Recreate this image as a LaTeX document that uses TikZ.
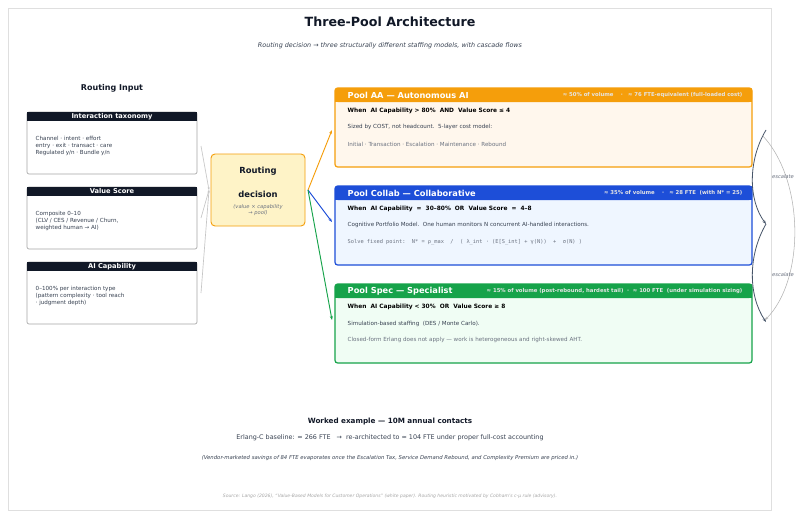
\documentclass[tikz,border=0pt]{standalone}
\usepackage{fontspec}
\setmainfont{DejaVu Sans}
\setmonofont{DejaVu Sans Mono}
\usetikzlibrary{arrows.meta}
\definecolor{navy}{HTML}{111827}
\definecolor{txt}{HTML}{374151}
\definecolor{gr}{HTML}{6B7280}
\definecolor{orA}{HTML}{F59E0B}
\definecolor{orF}{HTML}{FFF7ED}
\definecolor{blA}{HTML}{1D4ED8}
\definecolor{blF}{HTML}{EFF6FF}
\definecolor{gnA}{HTML}{16A34A}
\definecolor{gnF}{HTML}{F0FDF4}
\definecolor{yel}{HTML}{FEF3C7}
\definecolor{cas}{HTML}{475569}
\tikzset{
 inbox/.style={draw=gray!70,rounded corners=1.5pt,line width=0.5pt,fill=white},
 inhead/.style={inner sep=0pt,text=white,font=\fontsize{5}{5}\selectfont\bfseries},
 intext/.style={anchor=north west,align=left,text=txt,font=\fontsize{4.2}{5}\selectfont},
 pool/.style={rounded corners=2pt,line width=0.9pt},
 phead/.style={anchor=west,text=white,font=\fontsize{6.2}{6.2}\selectfont\bfseries},
 pright/.style={anchor=east,text=white!90!black,font=\fontsize{4}{4}\selectfont\bfseries},
 pwhen/.style={anchor=west,text=black,font=\fontsize{4.4}{4.4}\selectfont\bfseries},
 pbody/.style={anchor=west,text=txt,font=\fontsize{4.2}{4.2}\selectfont},
 inarr/.style={draw=gray!45,line width=0.5pt,-{Stealth[length=2pt]}},
}
\begin{document}
\begin{tikzpicture}[x=0.75pt,y=-0.75pt]
\useasboundingbox (0,0) rectangle (800,518);
\fill[white] (0,0) rectangle (800,518);
\draw[gray!25,line width=0.5pt] (8,8) rectangle (771,510);
\node[text=navy,font=\fontsize{9.5}{9.5}\selectfont\bfseries] (title) at (390,22) {Three-Pool Architecture};
\node[text=txt,font=\fontsize{4.8}{4.8}\selectfont\itshape] (sub) at (390,46) {Routing decision → three structurally different staffing models, with cascade flows};
\node[text=navy,font=\fontsize{6}{6}\selectfont\bfseries] (ri) at (112,88) {Routing Input};
% input boxes
\foreach \n/\y/\h/\t in {tax/112/Interaction taxonomy/{Channel · intent · effort\\entry · exit · transact · care\\Regulated y/n · Bundle y/n},
  val/187/Value Score/{Composite 0–10\\(CLV / CES / Revenue / Churn,\\weighted human → AI)},
  cap/262/AI Capability/{0–100\% per interaction type\\(pattern complexity · tool reach\\ · judgment depth)}}{
  \draw[inbox] (27,\y) rectangle (197,\y+62);
  \fill[navy] (27,\y) rectangle (197,\y+9);
  \node[inhead] (\n h) at (112,\y+4.5) {\h};
  \node[intext] (\n) at (31,\y+20) {\t};
}
\coordinate (tx) at (201,146); \coordinate (vx) at (201,218); \coordinate (cx) at (201,293);
% routing
\draw[orA,fill=yel,rounded corners=3pt,line width=0.7pt] (211,154) rectangle (305,226);
\node[text=navy,align=center,font=\fontsize{6.3}{18}\selectfont\bfseries] (rd) at (258,182) {Routing\\decision};
\node[text=gr,align=center,font=\fontsize{3.9}{4.8}\selectfont\itshape] (rds) at (258,210) {(value × capability\\→ pool)};
\coordinate (rin) at (209,190); \coordinate (rout) at (308,190);
\draw[inarr] (tx) -- (rin); \draw[inarr] (vx) -- (rin); \draw[inarr] (cx) -- (rin);
% pools
\foreach \y/\a/\f/\n in {88/orA/orF/aa,186/blA/blF/co,284/gnA/gnF/sp}{
  \draw[pool,draw=\a,fill=\f] (335,\y) rectangle (752,\y+79);
  \fill[\a,rounded corners=2pt] (335,\y) rectangle (752,\y+14);
  \fill[\a] (335,\y+8) rectangle (752,\y+14);
}
\node[phead] (aah) at (343,95) {Pool AA — Autonomous AI};
\node[pright] (aar) at (747,95) {≈ 50\% of volume \quad·\quad ≈ 76 FTE-equivalent (full-loaded cost)};
\node[pwhen] (aaw) at (343,111) {When\ \ AI Capability > 80\%\ \ AND\ \ Value Score ≤ 4};
\node[pbody] (aab) at (343,127) {Sized by COST, not headcount.\ \ 5-layer cost model:};
\node[pbody,text=gr] (aac) at (343,144) {Initial · Transaction · Escalation · Maintenance · Rebound};
\node[phead] (coh) at (343,193) {Pool Collab — Collaborative};
\node[pright] (cor) at (747,193) {≈ 35\% of volume \quad·\quad ≈ 28 FTE\ \ (with N* = 25)};
\node[pwhen] (cow) at (343,209) {When\ \ AI Capability\ \ =\ \ 30–80\%\ \ OR\ \ Value Score\ \ =\ \ 4–8};
\node[pbody] (cob) at (343,225) {Cognitive Portfolio Model.\ \ One human monitors N concurrent AI-handled interactions.};
\node[anchor=west,text=gr,font=\fontsize{4}{4}\selectfont\ttfamily] (coc) at (343,242) {Solve fixed point:\ \ N* = ρ\_max\ \ /\ \ ( λ\_int · (E[S\_int] + γ(N))\ \ +\ \ σ(N) )};
\node[phead] (sph) at (343,291) {Pool Spec — Specialist};
\node[pright] (spr) at (747,291) {≈ 15\% of volume (post-rebound, hardest tail) \ ·\ \ ≈ 100 FTE\ \ (under simulation sizing)};
\node[pwhen] (spw) at (343,307) {When\ \ AI Capability < 30\%\ \ OR\ \ Value Score ≥ 8};
\node[pbody] (spb) at (343,324) {Simulation-based staffing\ \ (DES / Monte Carlo).};
\node[pbody,text=gr] (spc) at (343,340) {Closed-form Erlang does not apply — work is heterogeneous and right-skewed AHT.};
% outputs
\coordinate (oa) at (332,130); \coordinate (ob) at (332,222); \coordinate (oc) at (332,320);
\draw[orA,line width=0.7pt,-{Stealth[length=3pt]}] (rout) -- (oa);
\draw[blA,line width=0.7pt,-{Stealth[length=3pt]}] (rout) -- (ob);
\draw[gnA,line width=0.7pt,-{Stealth[length=3pt]}] (rout) -- (oc);
% cascades
\coordinate (c1) at (766,130); \coordinate (c2) at (766,224); \coordinate (c3) at (766,322);
\draw[cas,line width=0.6pt,-{Stealth[length=3pt]}] (c1) .. controls (748,160) and (748,200) .. (c2);
\draw[cas,line width=0.6pt,-{Stealth[length=3pt]}] (c2) .. controls (748,255) and (748,295) .. (c3);
\draw[gray!60,line width=0.4pt,-{Stealth[length=2.5pt]}] (762,135) .. controls (805,180) and (805,280) .. (765,320);
\node[text=gr,font=\fontsize{3.9}{3.9}\selectfont\itshape] (e1) at (783,177) {escalate};
\node[text=gr,font=\fontsize{3.9}{3.9}\selectfont\itshape] (e2) at (783,275) {escalate};
% bottom
\node[text=navy,font=\fontsize{5.4}{5.4}\selectfont\bfseries] (we) at (390,422) {Worked example — 10M annual contacts};
\node[text=txt,font=\fontsize{4.8}{4.8}\selectfont] (eb) at (390,438) {Erlang-C baseline: ≈ 266 FTE \ \ → \ re-architected to ≈ 104 FTE under proper full-cost accounting};
\node[text=txt,font=\fontsize{4}{4}\selectfont\itshape] (vn) at (390,458) {(Vendor-marketed savings of 84 FTE evaporates once the Escalation Tax, Service Demand Rebound, and Complexity Premium are priced in.)};
\node[text=gray!70,font=\fontsize{3.4}{3.4}\selectfont\itshape] (src) at (390,496) {Source: Lango (2026), “Value-Based Models for Customer Operations” (white paper). Routing heuristic motivated by Cobham's c-μ rule (advisory).};
\end{tikzpicture}
\end{document}
